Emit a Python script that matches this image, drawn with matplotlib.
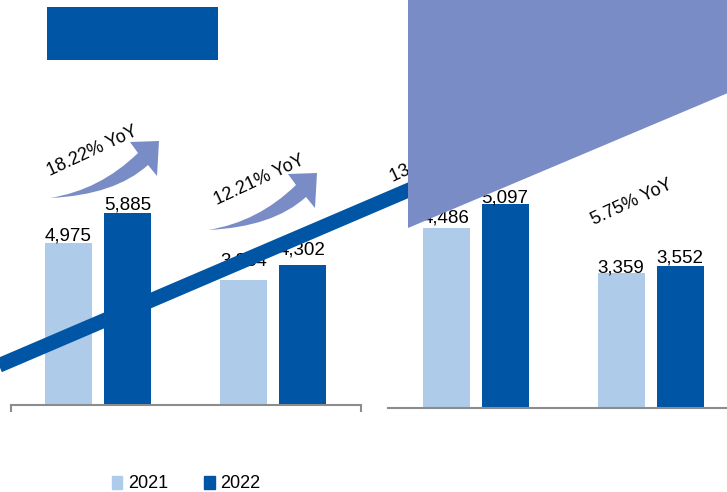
import numpy as np
import matplotlib
matplotlib.use('Agg')
import matplotlib.pyplot as plt
from matplotlib.patches import Polygon, Rectangle, PathPatch
from matplotlib.path import Path

plt.rcParams['font.family'] = ['Liberation Sans', 'DejaVu Sans']

# datos
anios = ['2021', '2022']
izq_2021 = [4975, 3834]
izq_2022 = [5885, 4302]
der_2021 = [4486, 3359]
der_2022 = [5097, 3552]
yoy = ['18.22% YoY', '12.21% YoY', '13.62% YoY', '5.75% YoY']

claro = '#AECBEA'
oscuro = '#0055A5'
lila = '#7A8CC6'
gris = '#8C8C8C'

W, H = 727, 492
fig = plt.figure(figsize=(W / 100, H / 100), dpi=100)

ancho = 47 / 175
desp = 29.5 / 175
x = np.arange(2)


def panel(x0, x1, base, escala, v1, v2, xl, huecos):
    ax = fig.add_axes([x0 / W, 1 - base / H, (x1 - x0) / W, base / H])
    ax.patch.set_alpha(0)
    ax.bar(x - desp, v1, ancho, color=claro)
    ax.bar(x + desp, v2, ancho, color=oscuro)
    # etiquetas (hueco en pixeles sobre cada barra)
    xs = [x[0] - desp, x[0] + desp, x[1] - desp, x[1] + desp]
    vs = [v1[0], v2[0], v1[1], v2[1]]
    for xi, v, g in zip(xs, vs, huecos):
        ax.text(xi, v + g * escala, f'{v:,}', ha='center', va='baseline', fontsize=13.5)
    ax.set_xlim(xl)
    ax.set_ylim(0, base * escala)
    for s in ['top', 'left', 'right']:
        ax.spines[s].set_visible(False)
    ax.spines['bottom'].set_color(gris)
    ax.spines['bottom'].set_linewidth(1.5)
    ax.set_yticks([])
    return ax


ax1 = panel(11, 361, 405, 30.7, izq_2021, izq_2022, (-0.497, 1.503), [2, 4, 15, 10])
ax1.set_xticks([-0.497, 1.503])
ax1.tick_params(axis='x', length=5, width=1.5, color=gris, labelbottom=False)

ax2 = panel(388, 727, 408, 24.95, der_2021, der_2022, (-0.5, 1.437), [6, 1, 1, 3])
ax2.set_xticks([])

# capa de adornos en pixeles
ov = fig.add_axes([0, 0, 1, 1], zorder=5)
ov.set_xlim(0, W)
ov.set_ylim(H, 0)
ov.axis('off')
ov.patch.set_alpha(0)


def flecha(dx, dy):
    verts = [(50, 198), (100, 190), (138, 153), (130, 142), (159, 141),
             (157, 176), (148, 165), (115, 195), (50, 198)]
    codes = [Path.MOVETO, Path.CURVE3, Path.CURVE3, Path.LINETO, Path.LINETO,
             Path.LINETO, Path.LINETO, Path.CURVE3, Path.CURVE3]
    verts = [(a + dx, b + dy) for a, b in verts]
    return PathPatch(Path(verts, codes), facecolor=lila, edgecolor='none', zorder=2)


ov.add_patch(flecha(0, 0))
ov.add_patch(flecha(158, 32))

# textos YoY
pos = [(92, 151), (259, 180), (436, 157), (632, 202)]
for t, (px, py) in zip(yoy, pos):
    ov.text(px, py, t, fontsize=13, rotation=25, ha='center', va='center',
            rotation_mode='anchor', zorder=3)

# banda diagonal
xs = np.array([-30, 480])
ov.plot(xs, 365 - 0.428 * xs, color=oscuro, lw=10.5, solid_capstyle='butt', zorder=4)

# poligono arriba a la derecha
ov.add_patch(Polygon([(408, -5), (735, -5), (735, 90), (408, 228)],
                     closed=True, facecolor=lila, edgecolor='none', zorder=6))

# rectangulo oscuro
ov.add_patch(Rectangle((47, 7), 171, 53, facecolor=oscuro, edgecolor='none', zorder=6))

# leyenda
h1 = Rectangle((0, 0), 1, 1, color=claro)
h2 = Rectangle((0, 0), 1, 1, color=oscuro)
fig.legend([h1, h2], anios, loc='center', bbox_to_anchor=(186 / W, 1 - 484 / H),
           ncol=2, frameon=False, fontsize=13, handlelength=0.6, handleheight=0.7,
           handletextpad=0.3, columnspacing=2.0)

fig.savefig('out.png', dpi=100)
